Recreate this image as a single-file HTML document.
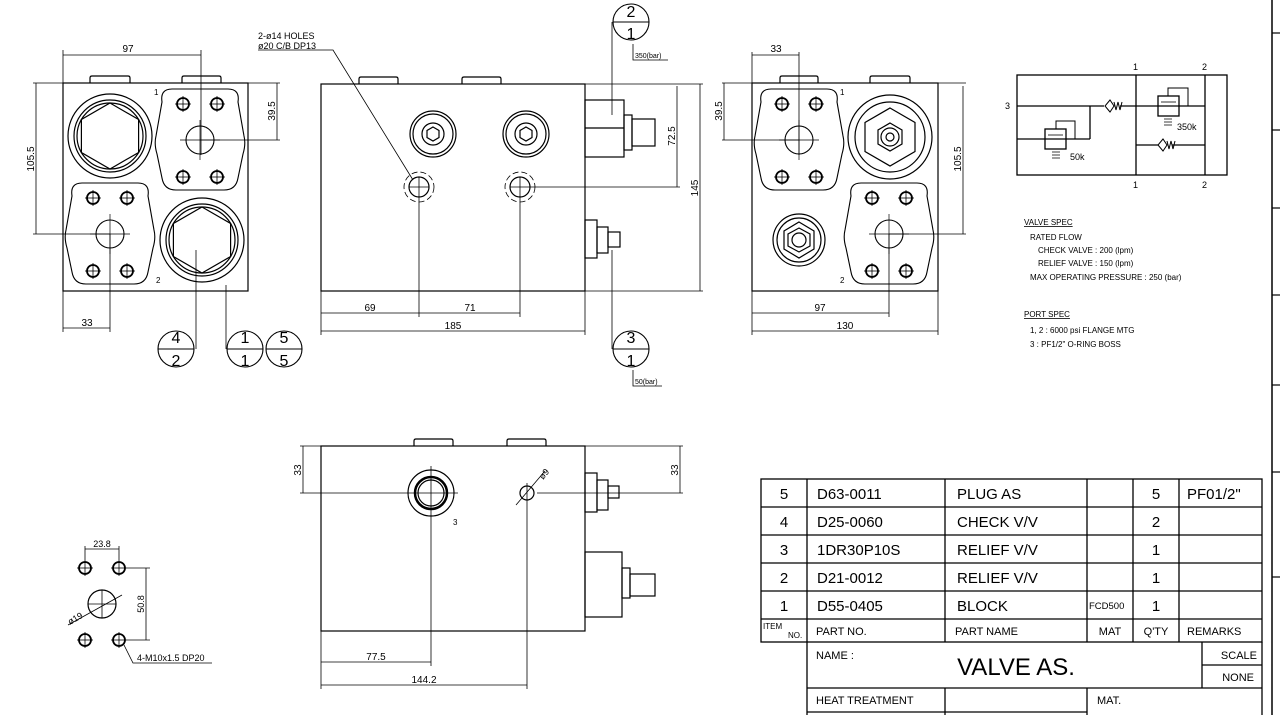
<!DOCTYPE html>
<html><head><meta charset="utf-8"><style>
html,body{margin:0;padding:0;background:#fff;width:1280px;height:715px;overflow:hidden}
svg{display:block}
text{font-family:"Liberation Sans",sans-serif;fill:#000}
</style></head><body>
<svg width="1280" height="715" viewBox="0 0 1280 715" xmlns="http://www.w3.org/2000/svg">
<defs>
<g id="bolt"><circle r="6" fill="none" stroke="#000" stroke-width="1.8"/><line x1="-8" y1="0" x2="8" y2="0" stroke="#000" stroke-width="0.8"/><line x1="0" y1="-8" x2="0" y2="8" stroke="#000" stroke-width="0.8"/></g>
<g id="flange" fill="none" stroke="#000" stroke-width="1.1">
<path d="M-28,-51 L28,-51 Q40,-51 38,-38 L44,-4 Q46,4 43,14 L38,38 Q36,50 24,50 L-24,50 Q-36,50 -38,38 L-43,14 Q-46,4 -44,-4 L-38,-38 Q-40,-51 -28,-51 Z"/>
<circle r="14"/>
<line x1="-20" y1="0" x2="20" y2="0" stroke-width="0.7"/><line x1="0" y1="-20" x2="0" y2="20" stroke-width="0.7"/>
<use href="#bolt" x="-17" y="-36"/><use href="#bolt" x="17" y="-36"/><use href="#bolt" x="-17" y="37"/><use href="#bolt" x="17" y="37"/>
</g>
<g id="bigport" fill="none" stroke="#000" stroke-width="1.2">
<circle r="42"/><circle r="36"/><circle r="33"/>
<polygon points="0,-33 28.6,-16.5 28.6,16.5 0,33 -28.6,16.5 -28.6,-16.5"/>
</g>
<g id="balloon" fill="#fff" stroke="#000" stroke-width="1.1"><circle r="18"/><line x1="-18" y1="0" x2="18" y2="0"/></g>
</defs>
<g fill="none" stroke="#000" stroke-width="1.2">
<line x1="1272" y1="0" x2="1272" y2="715" stroke-width="1.5"/>
<line x1="1272" y1="33" x2="1280" y2="33"/><line x1="1272" y1="130" x2="1280" y2="130"/><line x1="1272" y1="208" x2="1280" y2="208"/><line x1="1272" y1="295" x2="1280" y2="295"/><line x1="1272" y1="385" x2="1280" y2="385"/><line x1="1272" y1="472" x2="1280" y2="472"/><line x1="1272" y1="577" x2="1280" y2="577"/>

<rect x="63" y="83" width="185" height="208"/>
<path d="M90,83 V78 Q90,76 92,76 H128 Q130,76 130,78 V83 M182,83 V78 Q182,76 184,76 H219 Q221,76 221,78 V83"/>
<use href="#bigport" x="110" y="136"/>
<use href="#bigport" x="202" y="240"/>
<use href="#flange" x="200" y="140"/>
<use href="#flange" x="110" y="234"/>
<g stroke-width="0.8">
<line x1="63" y1="50" x2="63" y2="83"/><line x1="201" y1="50" x2="201" y2="155"/><line x1="63" y1="55" x2="201" y2="55"/>
<line x1="33" y1="83" x2="63" y2="83"/><line x1="33" y1="234" x2="110" y2="234"/><line x1="36" y1="83" x2="36" y2="234"/>
<line x1="248" y1="83" x2="280" y2="83"/><line x1="200" y1="140" x2="280" y2="140"/><line x1="277" y1="83" x2="277" y2="140"/>
<line x1="63" y1="291" x2="63" y2="332"/><line x1="110" y1="234" x2="110" y2="332"/><line x1="63" y1="328" x2="110" y2="328"/>
<line x1="196" y1="250" x2="196" y2="349"/><line x1="226" y1="285" x2="226" y2="349"/>
</g>
<use href="#balloon" x="176" y="349"/><use href="#balloon" x="245" y="349"/><use href="#balloon" x="284" y="349"/>

<rect x="321" y="84" width="264" height="207"/>
<path d="M359,84 V79 Q359,77 361,77 H396 Q398,77 398,79 V84 M462,84 V79 Q462,77 464,77 H499 Q501,77 501,79 V84"/>
<g><circle cx="433" cy="134" r="23"/><circle cx="433" cy="134" r="20"/><circle cx="433" cy="134" r="11"/><polygon points="433,127 439,130.5 439,137.5 433,141 427,137.5 427,130.5"/></g>
<g><circle cx="526" cy="134" r="23"/><circle cx="526" cy="134" r="20"/><circle cx="526" cy="134" r="11"/><polygon points="526,127 532,130.5 532,137.5 526,141 520,137.5 520,130.5"/></g>
<circle cx="419" cy="187" r="10"/><circle cx="419" cy="187" r="15" stroke-dasharray="6,3" stroke-width="0.8"/>
<circle cx="520" cy="187" r="10"/><circle cx="520" cy="187" r="15" stroke-dasharray="6,3" stroke-width="0.8"/>
<rect x="585" y="100" width="39" height="57"/><line x1="585" y1="128" x2="624" y2="128"/>
<rect x="624" y="115" width="8" height="35"/><rect x="632" y="119" width="23" height="27"/>
<rect x="585" y="220" width="12" height="38"/><rect x="597" y="227" width="11" height="26"/><rect x="608" y="232" width="12" height="15"/>
<g stroke-width="0.8">
<line x1="409" y1="187" x2="429" y2="187"/><line x1="419" y1="177" x2="419" y2="317"/>
<line x1="510" y1="187" x2="680" y2="187"/><line x1="520" y1="177" x2="520" y2="317"/>
<line x1="321" y1="291" x2="321" y2="335"/><line x1="585" y1="291" x2="585" y2="335"/>
<line x1="321" y1="313" x2="520" y2="313"/><line x1="321" y1="331" x2="585" y2="331"/>
<line x1="585" y1="84" x2="703" y2="84"/><line x1="585" y1="291" x2="703" y2="291"/>
<line x1="677" y1="86" x2="677" y2="187"/><line x1="700" y1="84" x2="700" y2="291"/>
<line x1="612" y1="22" x2="612" y2="115"/><line x1="612" y1="250" x2="612" y2="349"/>
<path d="M633,44 V60 H668 M633,370 V386 H662"/>
<path d="M258,50 H333 L413,180"/>
</g>
<use href="#balloon" x="631" y="22"/><use href="#balloon" x="631" y="349"/>

<rect x="752" y="83" width="186" height="208"/>
<path d="M780,83 V78 Q780,76 782,76 H816 Q818,76 818,78 V83 M870,83 V78 Q870,76 872,76 H908 Q910,76 910,78 V83"/>
<use href="#flange" x="799" y="140"/>
<use href="#flange" x="889" y="234"/>
<g><circle cx="890" cy="137" r="42"/><circle cx="890" cy="137" r="35"/><polygon points="890,108 915,122.5 915,151.5 890,166 865,151.5 865,122.5"/><polygon points="890,123 902,130 902,144 890,151 878,144 878,130"/><circle cx="890" cy="137" r="9"/><circle cx="890" cy="137" r="4"/></g>
<g><circle cx="799" cy="240" r="26"/><circle cx="799" cy="240" r="22"/><polygon points="799,222 814,231 814,249 799,258 784,249 784,231"/><polygon points="799,228 810,234 810,246 799,252 788,246 788,234"/><circle cx="799" cy="240" r="7"/></g>
<g stroke-width="0.8">
<line x1="752" y1="52" x2="752" y2="83"/><line x1="799" y1="52" x2="799" y2="155"/><line x1="752" y1="55" x2="799" y2="55"/>
<line x1="722" y1="83" x2="752" y2="83"/><line x1="722" y1="140" x2="799" y2="140"/><line x1="724" y1="83" x2="724" y2="140"/>
<line x1="938" y1="83" x2="966" y2="83"/><line x1="889" y1="234" x2="966" y2="234"/><line x1="963" y1="86" x2="963" y2="234"/>
<line x1="752" y1="291" x2="752" y2="335"/><line x1="938" y1="291" x2="938" y2="335"/><line x1="889" y1="234" x2="889" y2="317"/>
<line x1="752" y1="313" x2="889" y2="313"/><line x1="752" y1="331" x2="938" y2="331"/>
</g>

<g stroke-width="1.3">
<rect x="1017" y="75" width="210" height="100"/>
<line x1="1136" y1="75" x2="1136" y2="175"/><line x1="1205" y1="75" x2="1205" y2="175"/>
<line x1="1017" y1="106" x2="1104" y2="106"/><line x1="1120" y1="106" x2="1205" y2="106"/>
<line x1="1017" y1="139" x2="1090" y2="139"/><line x1="1090" y1="106" x2="1090" y2="139"/>
<rect x="1045" y="129" width="21" height="20"/><path d="M1056,129 V121 H1075 V139" stroke-width="1"/><line x1="1048" y1="135" x2="1063" y2="135" stroke-width="0.8"/>
<path d="M1052,152 h8 M1052,155 h8 M1052,158 h8" stroke-width="0.8"/>
<rect x="1158" y="96" width="21" height="20"/><path d="M1168,96 V88 H1188 V106" stroke-width="1"/><line x1="1161" y1="102" x2="1176" y2="102" stroke-width="0.8"/>
<path d="M1164,119 h8 M1164,122 h8 M1164,125 h8" stroke-width="0.8"/>
<line x1="1136" y1="145" x2="1158" y2="145"/><line x1="1172" y1="145" x2="1205" y2="145"/>
<path d="M1110,100 L1105,106 L1110,112 L1114,106 Z M1114,102 l2,8 l2,-8 l2,8 l2,-8" stroke-width="1"/>
<path d="M1163,139 L1158,145 L1163,151 L1167,145 Z M1167,141 l2,8 l2,-8 l2,8 l2,-8" stroke-width="1"/>
</g>

<rect x="321" y="446" width="264" height="185"/>
<path d="M414,446 V441 Q414,439 416,439 H451 Q453,439 453,441 V446 M507,446 V441 Q507,439 509,439 H544 Q546,439 546,441 V446"/>
<circle cx="431" cy="493" r="23"/><circle cx="431" cy="493" r="16" stroke-width="2.5"/><circle cx="431" cy="493" r="13"/>
<circle cx="527" cy="493" r="7"/>
<rect x="585" y="473" width="12" height="39"/><rect x="597" y="480" width="11" height="30"/><rect x="608" y="486" width="11" height="12"/>
<rect x="585" y="552" width="37" height="65"/><rect x="622" y="568" width="8" height="30"/><rect x="630" y="574" width="25" height="22"/>
<g stroke-width="0.8">
<line x1="300" y1="446" x2="321" y2="446"/><line x1="300" y1="493" x2="458" y2="493"/><line x1="303" y1="446" x2="303" y2="493"/>
<line x1="431" y1="466" x2="431" y2="666"/><line x1="527" y1="483" x2="527" y2="689"/>
<line x1="585" y1="446" x2="683" y2="446"/><line x1="537" y1="493" x2="683" y2="493"/><line x1="680" y1="446" x2="680" y2="493"/>
<line x1="516" y1="505" x2="545" y2="471"/>
<line x1="321" y1="631" x2="321" y2="689"/>
<line x1="321" y1="662" x2="431" y2="662"/><line x1="321" y1="685" x2="527" y2="685"/>
</g>

<use href="#bolt" x="85" y="568"/><use href="#bolt" x="119" y="568"/><use href="#bolt" x="85" y="640"/><use href="#bolt" x="119" y="640"/>
<circle cx="102" cy="604" r="14"/>
<g stroke-width="0.8">
<line x1="85" y1="546" x2="85" y2="560"/><line x1="119" y1="546" x2="119" y2="560"/><line x1="85" y1="549" x2="119" y2="549"/>
<line x1="127" y1="568" x2="150" y2="568"/><line x1="127" y1="640" x2="150" y2="640"/><line x1="146" y1="568" x2="146" y2="640"/>
<line x1="68" y1="625" x2="122" y2="595"/><line x1="88" y1="604" x2="116" y2="604"/><line x1="102" y1="590" x2="102" y2="618"/>
<path d="M124,645 L133,663 H212"/>
</g>

<g stroke-width="1.3">
<rect x="761" y="479" width="501" height="163"/>
<line x1="761" y1="507" x2="1262" y2="507"/><line x1="761" y1="535" x2="1262" y2="535"/><line x1="761" y1="563" x2="1262" y2="563"/><line x1="761" y1="591" x2="1262" y2="591"/><line x1="761" y1="619" x2="1262" y2="619"/>
<line x1="807" y1="479" x2="807" y2="715"/><line x1="945" y1="479" x2="945" y2="642"/><line x1="1087" y1="479" x2="1087" y2="642"/><line x1="1133" y1="479" x2="1133" y2="642"/><line x1="1179" y1="479" x2="1179" y2="642"/>
<line x1="1262" y1="642" x2="1262" y2="715"/>
<line x1="1202" y1="642" x2="1202" y2="688"/><line x1="1202" y1="665" x2="1262" y2="665"/>
<line x1="807" y1="688" x2="1262" y2="688"/><line x1="807" y1="712" x2="1087" y2="712"/>
<line x1="945" y1="688" x2="945" y2="715"/><line x1="1087" y1="688" x2="1087" y2="715"/>
</g>
</g>

<g font-size="10">
<text x="128" y="52" text-anchor="middle">97</text>
<text x="154" y="95" font-size="8">1</text><text x="156" y="283" font-size="8">2</text>
<text transform="translate(34,159) rotate(-90)" text-anchor="middle">105.5</text>
<text transform="translate(275,111) rotate(-90)" text-anchor="middle">39.5</text>
<text x="87" y="326" text-anchor="middle">33</text>
<text x="370" y="311" text-anchor="middle">69</text>
<text x="470" y="311" text-anchor="middle">71</text>
<text x="453" y="329" text-anchor="middle">185</text>
<text transform="translate(675,136) rotate(-90)" text-anchor="middle">72.5</text>
<text transform="translate(698,188) rotate(-90)" text-anchor="middle">145</text>
<text x="776" y="52" text-anchor="middle">33</text>
<text transform="translate(722,111) rotate(-90)" text-anchor="middle">39.5</text>
<text transform="translate(961,159) rotate(-90)" text-anchor="middle">105.5</text>
<text x="820" y="311" text-anchor="middle">97</text>
<text x="845" y="329" text-anchor="middle">130</text>
<text x="840" y="95" font-size="8">1</text><text x="840" y="283" font-size="8">2</text>
<text x="258" y="39" font-size="9">2-ø14 HOLES</text>
<text x="258" y="49" font-size="9">ø20 C/B DP13</text>
<text x="635" y="58" font-size="7">350(bar)</text>
<text x="635" y="384" font-size="7">50(bar)</text>
<text transform="translate(301,470) rotate(-90)" text-anchor="middle">33</text>
<text transform="translate(678,470) rotate(-90)" text-anchor="middle">33</text>
<text transform="translate(543,480) rotate(-50)" font-size="9">ø9</text>
<text x="453" y="525" font-size="8">3</text>
<text x="376" y="660" text-anchor="middle">77.5</text>
<text x="424" y="683" text-anchor="middle">144.2</text>
<text x="102" y="547" text-anchor="middle" font-size="9">23.8</text>
<text transform="translate(144,604) rotate(-90)" text-anchor="middle" font-size="9">50.8</text>
<text transform="translate(70,625) rotate(-30)" font-size="9">ø19</text>
<text x="137" y="661" font-size="9">4-M10x1.5 DP20</text>
</g>
<g font-size="16" text-anchor="middle">
<text x="176" y="343">4</text><text x="176" y="366">2</text>
<text x="245" y="343">1</text><text x="245" y="366">1</text>
<text x="284" y="343">5</text><text x="284" y="366">5</text>
<text x="631" y="17">2</text><text x="631" y="39">1</text>
<text x="631" y="343">3</text><text x="631" y="366">1</text>
</g>
<g font-size="9">
<text x="1005" y="109">3</text><text x="1133" y="70">1</text><text x="1202" y="70">2</text><text x="1133" y="188">1</text><text x="1202" y="188">2</text>
<text x="1070" y="160">50k</text><text x="1177" y="130">350k</text>
</g>
<g font-size="8">
<text x="1024" y="225" text-decoration="underline">VALVE SPEC</text>
<text x="1030" y="240">RATED FLOW</text>
<text x="1038" y="253">CHECK VALVE : 200 (lpm)</text>
<text x="1038" y="266">RELIEF VALVE : 150 (lpm)</text>
<text x="1030" y="280">MAX OPERATING PRESSURE : 250 (bar)</text>
<text x="1024" y="317" text-decoration="underline">PORT SPEC</text>
<text x="1030" y="333">1, 2 : 6000 psi FLANGE MTG</text>
<text x="1030" y="347">3 : PF1/2" O-RING BOSS</text>
</g>
<g font-size="15">
<text x="784" y="499" text-anchor="middle">5</text><text x="817" y="499">D63-0011</text><text x="957" y="499">PLUG AS</text><text x="1156" y="499" text-anchor="middle">5</text><text x="1187" y="499">PF01/2"</text>
<text x="784" y="527" text-anchor="middle">4</text><text x="817" y="527">D25-0060</text><text x="957" y="527">CHECK V/V</text><text x="1156" y="527" text-anchor="middle">2</text>
<text x="784" y="555" text-anchor="middle">3</text><text x="817" y="555">1DR30P10S</text><text x="957" y="555">RELIEF V/V</text><text x="1156" y="555" text-anchor="middle">1</text>
<text x="784" y="583" text-anchor="middle">2</text><text x="817" y="583">D21-0012</text><text x="957" y="583">RELIEF V/V</text><text x="1156" y="583" text-anchor="middle">1</text>
<text x="784" y="611" text-anchor="middle">1</text><text x="817" y="611">D55-0405</text><text x="957" y="611">BLOCK</text><text x="1156" y="611" text-anchor="middle">1</text>
</g>
<g font-size="11">
<text x="1089" y="609" font-size="9.5">FCD500</text>
<text x="763" y="629" font-size="8">ITEM</text><text x="788" y="638" font-size="8">NO.</text>
<text x="816" y="635">PART NO.</text><text x="955" y="635">PART NAME</text>
<text x="1110" y="635" text-anchor="middle">MAT</text><text x="1156" y="635" text-anchor="middle">Q'TY</text><text x="1187" y="635">REMARKS</text>
<text x="816" y="659">NAME :</text>
<text x="1257" y="659" text-anchor="end">SCALE</text><text x="1254" y="681" text-anchor="end">NONE</text>
<text x="816" y="704">HEAT TREATMENT</text><text x="1097" y="704">MAT.</text>
</g>
<text x="1016" y="675" font-size="24" text-anchor="middle">VALVE AS.</text>
</svg>
</body></html>
